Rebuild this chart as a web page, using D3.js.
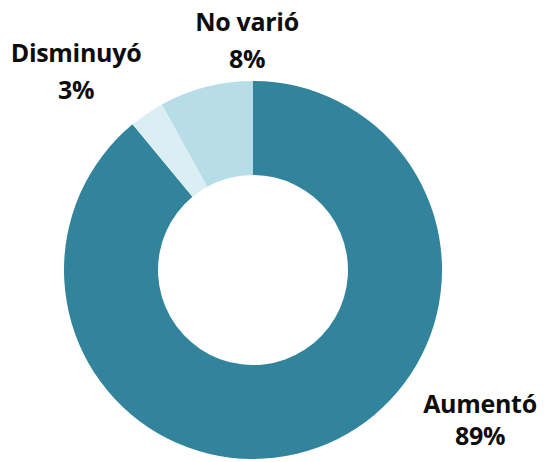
<!DOCTYPE html>
<html>
<head>
<meta charset="utf-8">
<script src="https://cdn.jsdelivr.net/npm/d3@7"></script>
<style>
  html, body { margin: 0; padding: 0; background: #fff; }
  svg { display: block; }
</style>
</head>
<body>
<div id="chart"></div>
<script>
// Donut: share of responses (Aumentó / Disminuyó / No varió)

const CATEGORIES = ["Aumentó", "Disminuyó", "No varió"];
const VALUES     = [89, 3, 8];
const COLORS     = ["#31849b", "#daeef3", "#b7dee8"];

// label placement relative to donut centre: [x, first baseline y, line gap]
const LABEL_LAYOUT = [
  [227, 143, 32],
  [-177, -208, 37],
  [-6, -239, 37],
];

const W = 548, H = 462;
const cx = 253, cy = 270;
const outerR = 189, innerR = 95;

const color = d3.scaleOrdinal().domain(CATEGORIES).range(COLORS);

const svg = d3.select("#chart").append("svg")
  .attr("width", W)
  .attr("height", H);

const g = svg.append("g")
  .attr("transform", `translate(${cx},${cy})`);

const pie = d3.pie().sort(null).value(d => d.value);
const arc = d3.arc().innerRadius(innerR).outerRadius(outerR);

const data = CATEGORIES.map((c, i) => ({ cat: c, value: VALUES[i] }));

g.selectAll("path")
  .data(pie(data))
  .join("path")
    .attr("d", arc)
    .attr("fill", d => color(d.data.cat));

// ── Labels ────────────────────────────────────────────────────────────────
const labels = g.selectAll("text.lbl")
  .data(data)
  .join("text")
    .attr("class", "lbl")
    .attr("text-anchor", "middle")
    .style("font-family", "'Open Sans', sans-serif")
    .style("font-weight", "700")
    .style("font-size", "25px")
    .style("letter-spacing", "-0.3px")
    .style("fill", "#0d0d0d");

labels.append("tspan")
  .attr("x", (d, i) => LABEL_LAYOUT[i][0])
  .attr("y", (d, i) => LABEL_LAYOUT[i][1])
  .text(d => d.cat);

labels.append("tspan")
  .attr("x", (d, i) => LABEL_LAYOUT[i][0])
  .attr("dy", (d, i) => LABEL_LAYOUT[i][2])
  .text(d => d.value + "%");
</script>
</body>
</html>
